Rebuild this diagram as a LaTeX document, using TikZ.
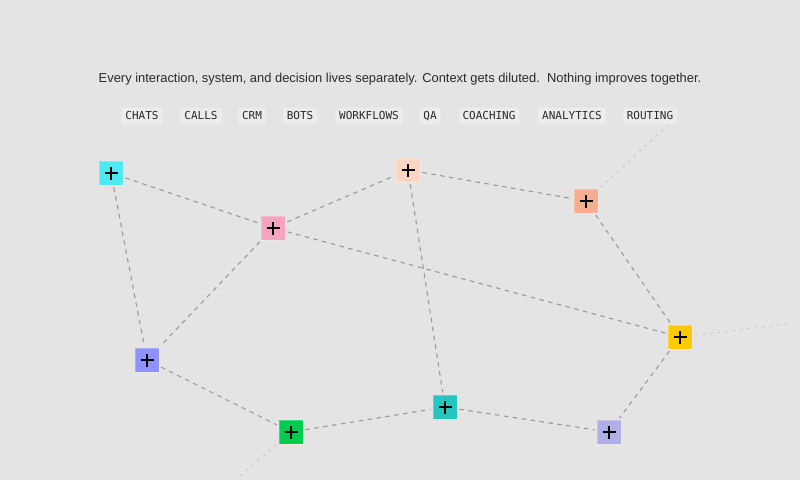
\documentclass[tikz,border=0pt]{standalone}
\usepackage{fontspec}
\setmainfont{Liberation Sans}
\newfontfamily\tagfont{DejaVu Sans Mono}
\definecolor{bg}{HTML}{E4E4E4}
\definecolor{tagbg}{HTML}{ECECEC}
\definecolor{ink}{HTML}{2A2A2A}
\definecolor{edge}{HTML}{999999}
\definecolor{faint}{HTML}{CACACA}
\definecolor{cCyan}{HTML}{4FE9F2}
\definecolor{cPink}{HTML}{F4A3C0}
\definecolor{cPeach}{HTML}{FDD5C3}
\definecolor{cSalmon}{HTML}{F6AE90}
\definecolor{cYellow}{HTML}{FFC900}
\definecolor{cBlue}{HTML}{9090FF}
\definecolor{cGreen}{HTML}{00CC4E}
\definecolor{cTeal}{HTML}{26C6BE}
\definecolor{cLav}{HTML}{AFAFE6}
\tikzset{
  sq/.style={rectangle, minimum size=24pt, inner sep=0pt, draw=white, draw opacity=0.25, line width=0.8pt,
    path picture={
      \draw[black, draw opacity=1, line width=1.2pt] ([xshift=-6.5pt]path picture bounding box.center) -- ([xshift=6.5pt]path picture bounding box.center);
      \draw[black, draw opacity=1, line width=1.2pt] ([yshift=-6.5pt]path picture bounding box.center) -- ([yshift=6.5pt]path picture bounding box.center);
    }},
  tagbox/.style={rectangle, rounded corners=3pt, fill=tagbg, inner xsep=4pt, inner ysep=0pt, text height=8pt, text depth=1pt, minimum height=17pt, text=ink, font=\tagfont\fontsize{11}{13}\selectfont},
  link/.style={draw=edge, line width=1.1pt, dash pattern=on 4.5pt off 4.5pt, shorten >=2pt, shorten <=2pt},
  faintlink/.style={draw=faint, line width=1.1pt, dash pattern=on 2.5pt off 5pt, shorten <=3pt}
}
\begin{document}
\begin{tikzpicture}[x=1pt,y=-1pt]
\fill[bg] (0,0) rectangle (800,480);
\useasboundingbox (0,0) rectangle (800,480);

\node[text=ink, font=\fontsize{12.9}{15}\selectfont] (title) at (400,79) {Every interaction, system, and decision lives separately. Context gets diluted.\ \ Nothing improves together.};

\node[tagbox] (t1) at (142,116) {CHATS};
\node[tagbox] (t2) at (201,116) {CALLS};
\node[tagbox] (t3) at (252,116) {CRM};
\node[tagbox] (t4) at (300,116) {BOTS};
\node[tagbox] (t5) at (369,116) {WORKFLOWS};
\node[tagbox] (t6) at (430,116) {QA};
\node[tagbox] (t7) at (489,116) {COACHING};
\node[tagbox] (t8) at (572,116) {ANALYTICS};
\node[tagbox] (t9) at (650,116) {ROUTING};

\node[sq, fill=cCyan] (cyan) at (111,173) {};
\node[sq, fill=cPink] (pink) at (273,228) {};
\node[sq, fill=cPeach] (peach) at (408,170) {};
\node[sq, fill=cSalmon] (salmon) at (586,201) {};
\node[sq, fill=cYellow] (yellow) at (680,337) {};
\node[sq, fill=cBlue] (blue) at (147,360) {};
\node[sq, fill=cGreen] (green) at (291,432) {};
\node[sq, fill=cTeal] (teal) at (445,407) {};
\node[sq, fill=cLav] (lav) at (609,432) {};

\coordinate (f1) at (668,125);
\coordinate (f2) at (788,324);
\coordinate (f3) at (240,476);

\draw[link] (cyan) -- (pink);
\draw[link] (cyan) -- (blue);
\draw[link] (pink) -- (peach);
\draw[link] (pink) -- (yellow);
\draw[link] (pink) -- (blue);
\draw[link] (peach) -- (salmon);
\draw[link] (peach) -- (teal);
\draw[link] (salmon) -- (yellow);
\draw[link] (yellow) -- (lav);
\draw[link] (blue) -- (green);
\draw[link] (green) -- (teal);
\draw[link] (teal) -- (lav);

\draw[faintlink] (salmon) -- (f1);
\draw[faintlink] (yellow) -- (f2);
\draw[faintlink] (green) -- (f3);
\end{tikzpicture}
\end{document}
